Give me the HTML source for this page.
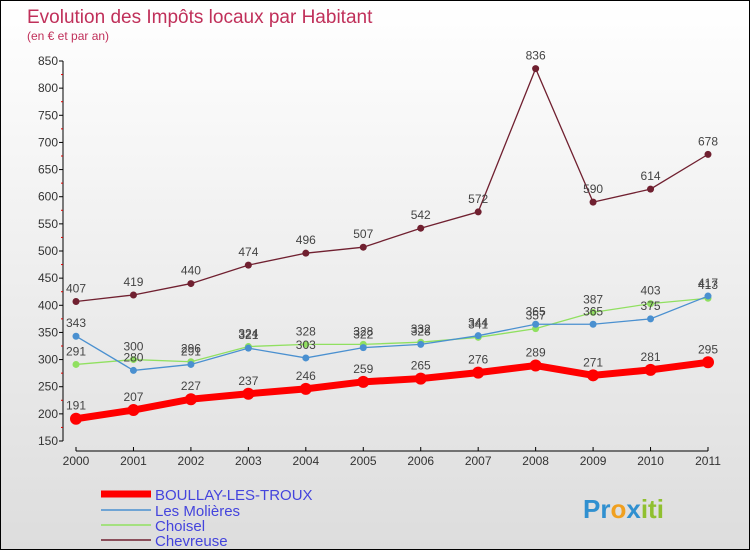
<!DOCTYPE html>
<html><head><meta charset="utf-8"><style>
body{margin:0}
#c{width:748px;height:548px;border:1px solid #000;position:relative;overflow:hidden;background:linear-gradient(#fff,#ddd);font-family:"Liberation Sans",sans-serif}
</style></head><body>
<div id="c">
<svg id="s" width="748" height="548">
<text x="26" y="22" font-size="19" fill="#c0305a">Evolution des Impôts locaux par Habitant</text>
<text x="26" y="39" font-size="12" fill="#c0305a">(en € et par an)</text>
<g id="ax"></g><g id="ser"></g>
<g font-size="15" fill="#4444dd">
<line x1="100" y1="493" x2="150" y2="493" stroke="#f00" stroke-width="7"/>
<text x="154" y="499">BOULLAY-LES-TROUX</text>
<line x1="100" y1="509" x2="150" y2="509" stroke="#4a90d0" stroke-width="1.5"/>
<text x="154" y="515">Les Molières</text>
<line x1="100" y1="524" x2="150" y2="524" stroke="#90e060" stroke-width="1.5"/>
<text x="154" y="530">Choisel</text>
<line x1="100" y1="539" x2="150" y2="539" stroke="#702030" stroke-width="1.5"/>
<text x="154" y="545">Chevreuse</text>
</g>
<text x="582" y="517" font-size="26" font-weight="bold"><tspan fill="#3090d0">Pr</tspan><tspan fill="#f0a020">o</tspan><tspan fill="#3090d0">x</tspan><tspan fill="#90c030">iti</tspan></text>
</svg></div>
<script>
const years=["2000","2001","2002","2003","2004","2005","2006","2007","2008","2009","2010","2011"];
const yTicks=[150,200,250,300,350,400,450,500,550,600,650,700,750,800,850];
const boullay=[191,207,227,237,246,259,265,276,289,271,281,295];
const molieres=[343,280,291,321,303,322,328,344,365,365,375,417];
const choisel=[291,300,296,324,328,328,332,341,357,387,403,413];
const chevreuse=[407,419,440,474,496,507,542,572,836,590,614,678];
const NS="http://www.w3.org/2000/svg";
const X=i=>75+i*(707-75)/11, Y=v=>440-(v-150)*(440-60)/700;
function mk(t,a,p){const e=document.createElementNS(NS,t);for(const k in a)e.setAttribute(k,a[k]);p.appendChild(e);return e;}
const ax=document.getElementById('ax'),ser=document.getElementById('ser');
mk('line',{x1:62,y1:60,x2:62,y2:Y(150),stroke:'#000'},ax);
mk('line',{x1:X(0),y1:450,x2:X(11),y2:450,stroke:'#000'},ax);
yTicks.forEach(v=>{const t=mk('text',{x:57,y:Y(v)+4,'font-size':12,'text-anchor':'end',fill:'#333'},ax);t.textContent=v;

mk('line',{x1:58,y1:Y(v),x2:62,y2:Y(v),stroke:'#000'},ax);
if(v<850)mk('line',{x1:60,y1:Y(v+25),x2:62,y2:Y(v+25),stroke:'#d00'},ax);});
years.forEach((y,i)=>{const t=mk('text',{x:X(i),y:464,'font-size':12,'text-anchor':'middle',fill:'#333'},ax);t.textContent=y;

mk('line',{x1:X(i),y1:446,x2:X(i),y2:450,stroke:'#000'},ax);});
function draw(d,col,w,r,name){const g=mk('g',{},ser);
mk('polyline',{points:d.map((v,i)=>X(i)+','+Y(v)).join(' '),fill:'none',stroke:col,'stroke-width':w},g);
d.forEach((v,i)=>{const c=mk('circle',{cx:X(i),cy:Y(v),r:r,fill:col},g);
const t=mk('text',{x:X(i),y:Y(v)-9,'font-size':12,'text-anchor':'middle',fill:'#444'},g);t.textContent=v;});}
draw(chevreuse,'#702030',1.3,3.5,'chevreuse');
draw(choisel,'#90e060',1.3,3.5,'choisel');
draw(molieres,'#4a90d0',1.3,3.5,'molieres');
draw(boullay,'#f00',7,6,'boullay');
</script></body></html>
